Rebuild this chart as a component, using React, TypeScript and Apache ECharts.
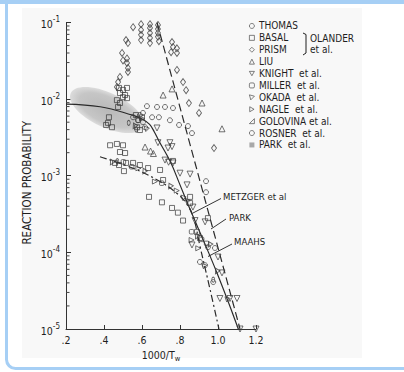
import React, { useEffect, useRef } from 'react';
import * as echarts from 'echarts';

// ---------- data ----------
const xTickValues = [0.2, 0.4, 0.6, 0.8, 1.0, 1.2];
const xTickLabels = ['.2', '.4', '.6', '.8', '1.0', '1.2'];
const minorMantissas = [2, 3, 4, 5, 6, 7, 8, 9];
const decadeExponents = [-5, -4, -3, -2];

const thomas = [
  [0.626, 8.1e-3], [0.679, 7.9e-3], [0.721, 7.9e-3], [0.763, 7.65e-3], [0.605, 6.6e-3],
  [0.653, 5.8e-3], [0.689, 5.8e-3], [0.747, 5.3e-3], [0.795, 4.6e-3], [0.842, 4.45e-3],
  [0.863, 3.6e-3], [0.553, 5.8e-3], [0.589, 6.2e-3], [0.937, 8.5e-4], [0.937, 6.1e-4],
  [0.932, 6.8e-5], [0.947, 1.17e-4], [0.984, 1.14e-4], [0.905, 7.5e-5], [0.975, 4.1e-5],
  [0.579, 5.3e-3], [0.605, 5.0e-3], [0.616, 4.3e-3],
];
const basal = [
  [0.479, 0.014], [0.5, 0.0132], [0.521, 0.014], [0.484, 0.012], [0.511, 0.0113],
  [0.468, 0.0097], [0.484, 0.0089], [0.521, 0.0103], [0.5, 0.0106], [0.474, 0.0079],
  [0.426, 0.0058], [0.421, 0.0049], [0.442, 0.0043], [0.411, 0.0046], [0.432, 0.0025],
  [0.468, 0.0026], [0.5, 0.0025], [0.484, 0.00204], [0.511, 0.00198], [0.458, 0.00147],
  [0.479, 0.00138], [0.516, 0.00147], [0.553, 0.00147], [0.589, 0.00138], [0.632, 0.00126],
  [0.695, 0.00119], [0.711, 8.8e-4], [0.505, 0.00115], [0.637, 5.3e-4], [0.705, 4.5e-4],
  [0.758, 3.8e-4], [0.789, 3.3e-4], [0.816, 2.6e-4], [0.853, 5.3e-4], [0.853, 4.4e-4],
  [0.763, 0.00156], [0.889, 1.84e-4], [0.905, 1.54e-4], [0.947, 2.8e-4],
  [0.568, 6.2e-3], [0.6, 5.8e-3], [0.574, 4.3e-3], [0.589, 3.95e-3],
];
const prism = [
  [0.553, 0.087], [0.595, 0.095], [0.595, 0.08], [0.595, 0.069], [0.595, 0.059],
  [0.642, 0.095], [0.642, 0.085], [0.642, 0.073], [0.642, 0.063], [0.642, 0.054],
  [0.684, 0.093], [0.684, 0.082], [0.684, 0.073], [0.684, 0.065], [0.689, 0.057],
  [0.516, 0.059], [0.526, 0.054], [0.495, 0.04], [0.5, 0.032], [0.521, 0.034],
  [0.521, 0.0297], [0.526, 0.0255], [0.526, 0.0226], [0.484, 0.0195], [0.474, 0.0167],
  [0.468, 0.0144], [0.758, 0.0556], [0.763, 0.048], [0.753, 0.041], [0.784, 0.046],
  [0.784, 0.04], [0.784, 0.024], [0.816, 0.0167], [0.832, 0.0131], [0.847, 0.0089],
  [0.9, 0.0066], [0.979, 0.0023],
];
const liu = [
  [0.758, 0.0136], [0.711, 0.0113], [0.916, 0.0089], [1.021, 0.0041],
  [0.616, 0.00237], [0.645, 0.0021], [0.66, 0.00195],
];
const knight = [
  [0.679, 0.0042], [0.684, 0.0027], [0.747, 0.0027], [0.758, 0.0024], [0.737, 0.0023],
  [0.721, 0.0016], [0.74, 0.0015], [0.763, 0.00147], [0.8, 0.00108], [0.853, 0.00105],
  [0.837, 7.6e-4], [0.868, 3.9e-4], [0.879, 2.6e-4], [0.863, 1.25e-4], [0.932, 2.5e-4],
  [1.0, 8.7e-5], [1.021, 5.4e-5], [1.1, 2.5e-5], [1.116, 1e-5], [1.2, 1e-5],
  [1.01, 2.5e-5], [1.063, 2.5e-5],
];
const miller = [
  [0.502, 1.52e-3], [0.546, 1.31e-3], [0.704, 8e-4], [0.861, 1.86e-4],
  [0.914, 1.48e-4], [0.94, 1.31e-4], [0.58, 5.3e-3],
];
const okada = [
  [0.44, 1.48e-3], [0.611, 1.13e-3], [0.747, 7.2e-4], [0.888, 1.6e-4],
  [0.955, 1.25e-4], [0.993, 5.6e-5], [0.56, 4.4e-3],
];
const nagle = [
  [0.581, 1.25e-3], [0.668, 8.4e-4], [0.783, 6.4e-4], [0.861, 1.45e-4],
  [0.896, 1.13e-4], [0.6, 5.6e-3],
];
const golovina = [
  [0.814, 5.3e-4], [0.835, 4.8e-4], [0.923, 6.8e-5], [1.046, 2.5e-5], [0.62, 4.2e-3],
];
const rosner = [
  [0.53, 4.9e-3], [0.57, 4.0e-3], [0.975, 4.4e-5], [0.47, 1.55e-3],
];
// PARK et al. band: long-axis end points [x1, y1, x2, y2]
const parkBand = [[0.2247, 0.01197, 0.607, 0.00433]];

// fitted curves
const maahsCurve = [
  [0.2, 8.63e-3], [0.38, 7.96e-3], [0.55, 6.17e-3], [0.6, 5.5e-3], [0.64, 4.68e-3],
  [0.665, 3.72e-3], [0.69, 2.82e-3], [0.75, 1.51e-3], [0.8, 7.6e-4], [0.85, 3.8e-4],
  [0.9, 1.95e-4], [0.95, 1e-4], [1.0, 5e-5], [1.05, 2.4e-5], [1.107, 1e-5],
];
const metzgerCurve = [
  [0.379, 1.77e-3], [0.554, 1.25e-3], [0.695, 8.4e-4], [0.783, 5.9e-4], [0.832, 4.4e-4],
  [0.87, 2.9e-4], [0.905, 1.21e-4], [0.958, 3.3e-5], [1.005, 1e-5],
];
const parkLine = [[0.679, 0.1], [1.116, 1e-5]];

const legendNames = [
  'THOMAS', 'BASAL', 'PRISM', 'LIU', 'KNIGHT\u00a0\u00a0et al.', 'MILLER\u00a0\u00a0et al.',
  'OKADA\u00a0\u00a0et al.', 'NAGLE\u00a0\u00a0et al.', 'GOLOVINA\u00a0et al.', 'ROSNER\u00a0\u00a0et al.',
  'PARK\u00a0\u00a0et al.',
];

const FONT = '"Liberation Sans Narrow", "DejaVu Sans Condensed", "Liberation Sans", sans-serif';
const INK = '#1e1e1e';
const FRAME = '#a6cff5';
const HOLLOW = { color: 'rgba(255,255,255,0)', borderColor: '#3a3a3a', borderWidth: 0.9 };

// [name, data, symbol, size, rotation, legend icon]
const markerDefs: [string, number[][], string, any, number, string | null][] = [
  [legendNames[0], thomas, 'circle', 5, 0, null],
  [legendNames[1], basal, 'rect', 5, 0, null],
  [legendNames[2], prism, 'diamond', [5, 7], 0, null],
  [legendNames[3], liu, 'triangle', 6, 0, null],
  [legendNames[4], knight, 'triangle', 6, 180, 'path://M0,0L10,0L5,8.7Z'],
  [legendNames[5], miller, 'roundRect', 4.5, 0, null],
  [legendNames[6], okada, 'triangle', 5, 150, 'path://M0,0L10,2.7L2.7,10Z'],
  [legendNames[7], nagle, 'triangle', 5, -90, 'path://M0,0L8.7,5L0,10Z'],
  [legendNames[8], golovina, 'triangle', 5, 45, 'path://M0,10L10,10L10,0Z'],
  [legendNames[9], rosner, 'circle', [3, 5], 0, null],
];

export default function App() {
  const ref = useRef<HTMLDivElement>(null);
  useEffect(() => {
    if (!ref.current) return;
    const chart = echarts.init(ref.current, null, { renderer: 'svg' });
    const minorTickData: number[][] = [];
    decadeExponents.forEach((e) =>
      minorMantissas.forEach((m) => minorTickData.push([0.2, m * Math.pow(10, e)]))
    );
    const scatterSeries = markerDefs.map(([name, data, symbol, size, rot]) => ({
      type: 'scatter',
      name,
      data,
      symbol,
      symbolSize: size,
      symbolRotate: rot,
      itemStyle: HOLLOW,
      z: 4,
    }));
    const option: any = {
      animation: false,
      backgroundColor: '#ffffff',
      textStyle: { fontFamily: FONT },
      grid: { left: 66, right: 148, top: 22.5, bottom: 43 },
      legend: {
        orient: 'vertical',
        left: 249,
        top: 20,
        padding: 0,
        itemWidth: 5,
        itemHeight: 5,
        itemGap: 0,
        selectedMode: false,
        itemStyle: { color: 'rgba(255,255,255,0)', borderColor: '#3a3a3a', borderWidth: 0.8 },
        textStyle: { fontFamily: FONT, fontSize: 10, lineHeight: 11.9, color: INK, padding: [0, 0, 0, -0.5] },
        data: legendNames.map((n, i) => {
          if (i === 10) return { name: n, icon: 'rect', itemStyle: { color: '#a8a8a8', borderWidth: 0 } };
          const icon = markerDefs[i][5];
          return icon ? { name: n, icon } : { name: n };
        }),
      },
      xAxis: {
        type: 'value',
        min: 0.2,
        max: 1.2,
        interval: 0.2,
        name: '1000/T{w|w}',
        nameLocation: 'middle',
        nameGap: 15,
        nameTextStyle: {
          fontFamily: FONT, fontSize: 10.5, color: INK,
          rich: { w: { fontSize: 7.5, fontFamily: FONT, color: INK, padding: [7, 0, 0, 0] } },
        },
        axisLine: { lineStyle: { color: '#333', width: 1 } },
        axisTick: { inside: true, length: 4, lineStyle: { color: '#333' } },
        axisLabel: {
          margin: 5,
          fontSize: 10.5,
          color: INK,
          fontFamily: FONT,
          formatter: (v: number) => {
            const i = xTickValues.findIndex((t) => Math.abs(t - v) < 1e-6);
            return i >= 0 ? xTickLabels[i] : '';
          },
        },
        splitLine: { show: false },
      },
      yAxis: {
        type: 'log',
        logBase: 10,
        min: 1e-5,
        max: 1e-1,
        splitNumber: 4,
        name: 'REACTION PROBABILITY',
        nameLocation: 'middle',
        nameGap: 33,
        nameTextStyle: { fontFamily: FONT, fontSize: 11.5, color: INK, padding: [0, 14, 0, 0] },
        axisLine: { show: true, lineStyle: { color: '#333', width: 1 } },
        axisTick: { inside: true, length: 5, lineStyle: { color: '#333' } },
        minorTick: { show: false },
        splitLine: { show: false },
        minorSplitLine: { show: false },
        axisLabel: {
          margin: 6,
          color: INK,
          formatter: (v: number) => {
            const e = Math.round(Math.log10(v));
            return `{b|10}{s|-${-e}}`;
          },
          rich: {
            b: { fontSize: 10.5, lineHeight: 14, verticalAlign: 'bottom', fontFamily: FONT, color: INK },
            s: { fontSize: 8, lineHeight: 14, verticalAlign: 'top', fontFamily: FONT, color: INK },
          },
        },
      },
      series: [
        {
          type: 'custom',
          name: 'minor-ticks',
          data: minorTickData,
          silent: true,
          z: 5,
          renderItem: (params: any, api: any) => {
            const p = api.coord([api.value(0), api.value(1)]);
            return {
              type: 'line',
              shape: { x1: p[0], y1: p[1], x2: p[0] + 3.5, y2: p[1] },
              style: { stroke: '#444', lineWidth: 1 },
            };
          },
        },
        {
          type: 'custom',
          name: 'PARK\u00a0\u00a0et al.',
          data: parkBand,
          encode: { x: [0, 2], y: [1, 3] },
          z: 1,
          renderItem: (params: any, api: any) => {
            const p1 = api.coord([api.value(0), api.value(1)]);
            const p2 = api.coord([api.value(2), api.value(3)]);
            const dx = p2[0] - p1[0];
            const dy = p2[1] - p1[1];
            const a = Math.hypot(dx, dy) / 2;
            return {
              type: 'ellipse',
              x: (p1[0] + p2[0]) / 2,
              y: (p1[1] + p2[1]) / 2,
              rotation: -Math.atan2(dy, dx),
              shape: { cx: 0, cy: 0, rx: a, ry: a * 0.43 },
              style: {
                fill: {
                  type: 'radial', x: 0.5, y: 0.5, r: 0.5,
                  colorStops: [
                    { offset: 0, color: '#b9b9b9' },
                    { offset: 0.75, color: '#c6c6c6' },
                    { offset: 1, color: '#dcdcdc' },
                  ],
                },
              },
            };
          },
        },
        {
          type: 'line', name: 'MAAHS', data: maahsCurve, symbol: 'none', smooth: 0.4, z: 3,
          lineStyle: { color: '#2a2a2a', width: 1.2 },
        },
        {
          type: 'line', name: 'METZGER', data: metzgerCurve, symbol: 'none', smooth: 0.4, z: 3,
          lineStyle: { color: '#2a2a2a', width: 1.2, type: [7, 3, 2, 3] },
        },
        {
          type: 'line', name: 'PARK', data: parkLine, symbol: 'none', z: 3,
          lineStyle: { color: '#2a2a2a', width: 1.2, type: [8, 4] },
        },
        ...scatterSeries,
      ],
      graphic: [
        { type: 'rect', z: -10, silent: true, shape: { x: 22, y: 8, width: 340, height: 350 }, style: { fill: '#f8f8f8' } },
        { type: 'rect', z: 10, silent: true, shape: { x: 0, y: 0, width: 404, height: 4 }, style: { fill: FRAME } },
        { type: 'rect', z: 10, silent: true, shape: { x: 6.5, y: -20, width: 420, height: 388.5, r: 9 }, style: { fill: 'none', stroke: FRAME, lineWidth: 3 } },
        { type: 'polyline', z: 10, shape: { points: [[303, 33], [306, 34.5], [306, 53], [303, 55]] }, style: { fill: 'none', stroke: INK, lineWidth: 1 } },
        { type: 'text', z: 10, x: 310, y: 38, style: { text: 'OLANDER', fontSize: 10, fontFamily: FONT, fill: INK, verticalAlign: 'middle' } },
        { type: 'text', z: 10, x: 310, y: 49.5, style: { text: 'et al.', fontSize: 10, fontFamily: FONT, fill: INK, verticalAlign: 'middle' } },
        { type: 'text', z: 10, x: 223, y: 196.5, style: { text: 'METZGER et al', fontSize: 9.5, fontFamily: FONT, fill: INK, verticalAlign: 'middle' } },
        { type: 'line', z: 10, shape: { x1: 221, y1: 198.5, x2: 193, y2: 213 }, style: { stroke: INK, lineWidth: 0.9 } },
        { type: 'text', z: 10, x: 229, y: 217, style: { text: 'PARK', fontSize: 9.5, fontFamily: FONT, fill: INK, verticalAlign: 'middle' } },
        { type: 'line', z: 10, shape: { x1: 226, y1: 219, x2: 211, y2: 229 }, style: { stroke: INK, lineWidth: 0.9 } },
        { type: 'text', z: 10, x: 234, y: 241, style: { text: 'MAAHS', fontSize: 9.5, fontFamily: FONT, fill: INK, verticalAlign: 'middle' } },
        { type: 'line', z: 10, shape: { x1: 232, y1: 244, x2: 208, y2: 256.5 }, style: { stroke: INK, lineWidth: 0.9 } },
      ],
    };
    chart.setOption(option);
    return () => chart.dispose();
  }, []);
  return <div ref={ref} style={{ position: 'fixed', left: 0, top: 0, width: 404, height: 372 }} />;
}
